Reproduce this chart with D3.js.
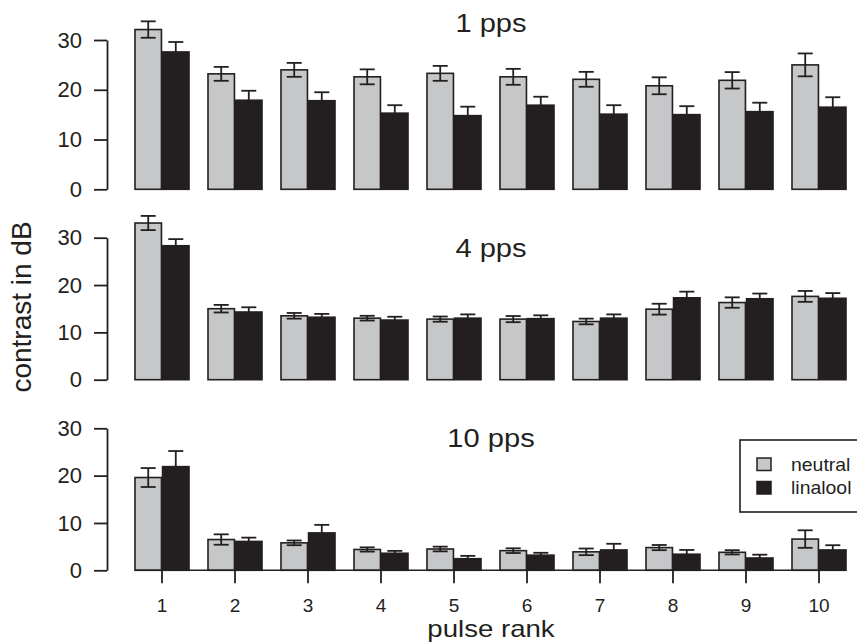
<!DOCTYPE html>
<html>
<head>
<meta charset="utf-8">
<script src="https://cdn.jsdelivr.net/npm/d3@7"></script>
<style>
  body { margin: 0; background: #fff; }
  text { font-family: "Liberation Sans", Arial, sans-serif; fill: #231f20; }
</style>
</head>
<body>
<div class="container"></div>
<script>
// pulse rank categories
var ranks = [1, 2, 3, 4, 5, 6, 7, 8, 9, 10];
var groups = ["neutral", "linalool"];
var yTicks = [0, 10, 20, 30];

// 1 pps
var neutral1     = [32.1, 23.2, 24.0, 22.6, 23.3, 22.6, 22.1, 20.8, 21.9, 25.0];
var neutral1Err  = [1.65, 1.4, 1.4, 1.5, 1.5, 1.6, 1.5, 1.7, 1.65, 2.3];
var linalool1    = [27.6, 17.9, 17.8, 15.3, 14.8, 16.9, 15.1, 15.0, 15.6, 16.5];
var linalool1Err = [2.0, 1.9, 1.7, 1.6, 1.8, 1.7, 1.8, 1.7, 1.8, 2.0];

// 4 pps
var neutral4     = [33.1, 15.0, 13.5, 13.0, 12.8, 12.8, 12.3, 14.9, 16.3, 17.6];
var neutral4Err  = [1.5, 0.8, 0.6, 0.5, 0.55, 0.65, 0.6, 1.15, 1.1, 1.15];
var linalool4    = [28.3, 14.3, 13.2, 12.6, 13.0, 12.9, 13.0, 17.3, 17.1, 17.2];
var linalool4Err = [1.4, 1.0, 0.7, 0.7, 0.8, 0.7, 0.8, 1.3, 1.1, 1.1];

// 10 pps
var neutral10     = [19.6, 6.5, 5.8, 4.4, 4.5, 4.15, 3.9, 4.8, 3.8, 6.6];
var neutral10Err  = [2.0, 1.1, 0.5, 0.45, 0.5, 0.5, 0.7, 0.55, 0.45, 1.85];
var linalool10    = [21.9, 6.1, 7.9, 3.6, 2.45, 3.2, 4.3, 3.4, 2.6, 4.3];
var linalool10Err = [3.3, 0.8, 1.7, 0.5, 0.6, 0.5, 1.3, 0.9, 0.7, 1.0];

var w = 857, h = 644;
var dark = "#231f20", light = "#c6c7c9";
var colorDict = {"neutral": light, "linalool": dark};

var svg = d3.select(".container")
  .append("svg")
  .attr("width", w)
  .attr("height", h);

// group positions (shared by all panels)
var xScale = d3.scaleBand()
  .domain(ranks)
  .range([125.5, 855.5])
  .paddingInner(0.26)
  .paddingOuter(0.13);
var subScale = d3.scaleBand()
  .domain(groups)
  .range([0, xScale.bandwidth()])
  .paddingInner(0.04);

var panels = [
  {title: "1 pps",  titleY: 32,  range: [189.3, 40],    neutral: neutral1,  nErr: neutral1Err,  linalool: linalool1,  lErr: linalool1Err},
  {title: "4 pps",  titleY: 257, range: [379.7, 237.7], neutral: neutral4,  nErr: neutral4Err,  linalool: linalool4,  lErr: linalool4Err},
  {title: "10 pps", titleY: 447, range: [570.3, 428.3], neutral: neutral10, nErr: neutral10Err, linalool: linalool10, lErr: linalool10Err}
];

panels.forEach(function (p, pi) {
  var y = d3.scaleLinear().domain([0, 30]).range(p.range);
  var g = svg.append("g").attr("class", "panel" + pi);

  // y axis
  var yAxis = d3.axisLeft(y).tickValues(yTicks).tickSize(13).tickSizeOuter(0).tickPadding(12);
  var ya = g.append("g")
    .attr("transform", "translate(107,0)")
    .call(yAxis);
  ya.select(".domain").attr("stroke", dark).attr("stroke-width", 1.8);
  ya.selectAll(".tick line").attr("stroke", dark).attr("stroke-width", 1.8);
  ya.selectAll(".tick text").attr("font-size", 22).attr("fill", dark)
    .attr("font-family", "Liberation Sans, Arial, sans-serif");

  // bars data
  var rows = ranks.map(function (r, i) {
    return groups.map(function (k) {
      return {rank: r, key: k,
        value: k == "neutral" ? p.neutral[i] : p.linalool[i],
        err: k == "neutral" ? p.nErr[i] : p.lErr[i]};
    });
  });

  var grp = g.selectAll(".grp")
    .data(rows)
    .enter().append("g")
    .attr("class", "grp")
    .attr("transform", function (d) { return "translate(" + xScale(d[0].rank) + ",0)"; });

  grp.selectAll("rect")
    .data(function (d) { return d; })
    .enter().append("rect")
    .attr("x", function (d) { return subScale(d.key); })
    .attr("width", subScale.bandwidth())
    .attr("y", function (d) { return y(d.value); })
    .attr("height", function (d) { return y(0) - y(d.value); })
    .attr("fill", function (d) { return colorDict[d.key]; })
    .attr("stroke", dark)
    .attr("stroke-width", 1.6);

  // error bars
  var eb = grp.selectAll(".err")
    .data(function (d) { return d; })
    .enter().append("g")
    .attr("class", "err")
    .attr("transform", function (d) { return "translate(" + (subScale(d.key) + subScale.bandwidth() / 2) + ",0)"; });
  eb.append("line")
    .attr("x1", 0).attr("x2", 0)
    .attr("y1", function (d) { return y(d.value - d.err); })
    .attr("y2", function (d) { return y(d.value + d.err); })
    .attr("stroke", dark).attr("stroke-width", 1.8);
  eb.append("line")
    .attr("x1", -7.5).attr("x2", 7.5)
    .attr("y1", function (d) { return y(d.value + d.err); })
    .attr("y2", function (d) { return y(d.value + d.err); })
    .attr("stroke", dark).attr("stroke-width", 1.8);
  eb.append("line")
    .attr("x1", -7.5).attr("x2", 7.5)
    .attr("y1", function (d) { return y(d.value - d.err); })
    .attr("y2", function (d) { return y(d.value - d.err); })
    .attr("stroke", dark).attr("stroke-width", 1.8);

  // panel title (the source font is a little wider than Arial)
  g.append("text")
    .attr("transform", "translate(491," + p.titleY + ") scale(1.12,1)")
    .attr("text-anchor", "middle")
    .attr("font-size", 26)
    .text(p.title);

  // x axis only on bottom panel
  if (pi == 2) {
    var xAxis = d3.axisBottom(xScale).tickSize(13).tickSizeOuter(0).tickPadding(15);
    var xa = g.append("g")
      .attr("transform", "translate(0," + y(0) + ")")
      .call(xAxis);
    xa.select(".domain")
      .attr("d", "M" + xScale(1) + ",0H" + (xScale(10) + xScale.bandwidth()))
      .attr("stroke", dark).attr("stroke-width", 1.6);
    xa.selectAll(".tick line").attr("stroke", dark).attr("stroke-width", 1.8);
    xa.selectAll(".tick text").attr("font-size", 19).attr("fill", dark)
      .attr("font-family", "Liberation Sans, Arial, sans-serif");
  }
});

// axis titles
svg.append("text")
  .attr("transform", "translate(491,637) scale(1.2,1)")
  .attr("text-anchor", "middle")
  .attr("font-size", 23)
  .text("pulse rank");

svg.append("text")
  .attr("transform", "translate(31,307) rotate(-90)")
  .attr("text-anchor", "middle")
  .attr("font-size", 28)
  .text("contrast in dB");

// legend
var legend = svg.append("g").attr("class", "legend");
legend.append("rect")
  .attr("x", 740).attr("y", 440)
  .attr("width", 130).attr("height", 72)
  .attr("fill", "#fff")
  .attr("stroke", dark).attr("stroke-width", 1.6);
var li = legend.selectAll(".item")
  .data(groups)
  .enter().append("g")
  .attr("class", "item")
  .attr("transform", function (d, i) { return "translate(757," + (458 + i * 23.5) + ")"; });
li.append("rect")
  .attr("width", 14).attr("height", 12.5)
  .attr("fill", function (d) { return colorDict[d]; })
  .attr("stroke", dark).attr("stroke-width", 1.5);
li.append("text")
  .attr("transform", "translate(34,12.5) scale(1.08,1)")
  .attr("font-size", 18)
  .text(function (d) { return d; });
</script>
</body>
</html>
